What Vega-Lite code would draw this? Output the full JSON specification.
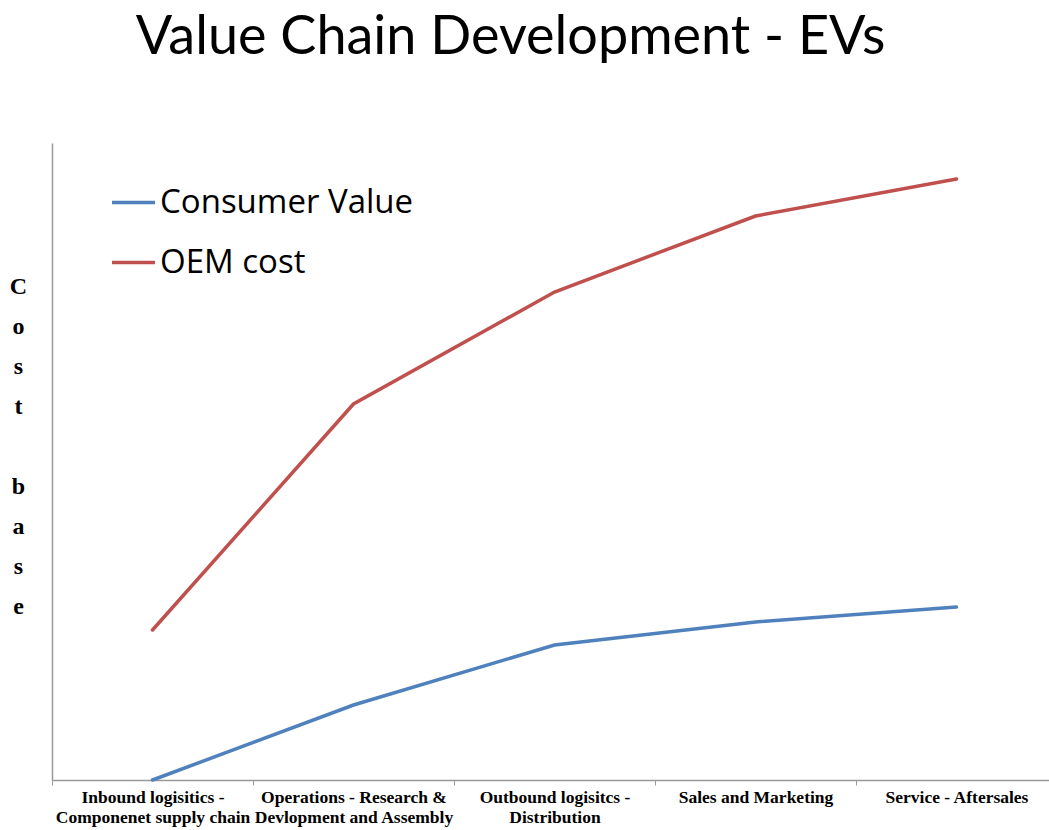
{
  "$schema": "https://vega.github.io/schema/vega-lite/v6.json",
  "autosize": {"type": "none"},
  "padding": {"left": 52, "top": 143, "right": 0, "bottom": 50},
  "width": 1005,
  "height": 637,
  "background": "white",
  "title": {
    "text": "Value Chain Development - EVs",
    "font": "Lato",
    "fontSize": 54,
    "fontWeight": "normal",
    "color": "#000000",
    "anchor": "middle",
    "baseline": "alphabetic",
    "offset": 35,
    "dx": -44
  },
  "data": {
    "values": [
      {"stage": "Inbound logisitics - |Componenet supply chain", "series": "Consumer Value", "cost": 0},
      {"stage": "Operations - Research & |Devlopment and Assembly", "series": "Consumer Value", "cost": 75},
      {"stage": "Outbound logisitcs - |Distribution", "series": "Consumer Value", "cost": 135},
      {"stage": "Sales and Marketing", "series": "Consumer Value", "cost": 158},
      {"stage": "Service - Aftersales", "series": "Consumer Value", "cost": 173},
      {"stage": "Inbound logisitics - |Componenet supply chain", "series": "OEM cost", "cost": 150},
      {"stage": "Operations - Research & |Devlopment and Assembly", "series": "OEM cost", "cost": 376},
      {"stage": "Outbound logisitcs - |Distribution", "series": "OEM cost", "cost": 488},
      {"stage": "Sales and Marketing", "series": "OEM cost", "cost": 564},
      {"stage": "Service - Aftersales", "series": "OEM cost", "cost": 601}
    ]
  },
  "mark": {"type": "line", "strokeWidth": 3.5, "strokeCap": "round"},
  "encoding": {
    "x": {
      "field": "stage",
      "type": "nominal",
      "sort": null,
      "scale": {"paddingInner": 0, "paddingOuter": 0},
      "axis": {
        "title": null,
        "labelAngle": 0,
        "labelExpr": "datum.value ? split(datum.value, '|') : ''",
        "labelFont": "Liberation Serif",
        "labelFontWeight": "bold",
        "labelFontSize": 17.5,
        "labelColor": "#000000",
        "labelLineHeight": 20,
        "labelPadding": 3,
        "labelBaseline": "top",
        "labelLimit": 400,
        "domainColor": "#999999",
        "domainWidth": 1.5,
        "tickColor": "#999999",
        "tickSize": 5,
        "tickBand": "extent",
        "grid": false
      }
    },
    "y": {
      "field": "cost",
      "type": "quantitative",
      "scale": {"domain": [0, 637], "nice": false, "zero": true},
      "axis": {
        "title": ["C", "o", "s", "t", "\u200b", "b", "a", "s", "e"],
        "titleAngle": 0,
        "titleFont": "Liberation Serif",
        "titleFontWeight": "bold",
        "titleFontSize": 24,
        "titleColor": "#000000",
        "titleLineHeight": 40,
        "titleAlign": "center",
        "titleBaseline": "alphabetic",
        "titleX": -34,
        "titleY": 150,
        "labels": false,
        "ticks": false,
        "grid": false,
        "domainColor": "#999999",
        "domainWidth": 1.5
      }
    },
    "color": {
      "field": "series",
      "type": "nominal",
      "scale": {"domain": ["Consumer Value", "OEM cost"], "range": ["#4F81BD", "#C0504D"]},
      "legend": {
        "title": null,
        "orient": "none",
        "legendX": 58,
        "legendY": 36,
        "symbolType": "stroke",
        "symbolSize": 1849,
        "symbolStrokeWidth": 3.5,
        "labelFont": "Open Sans",
        "labelFontSize": 33,
        "labelColor": "#000000",
        "labelOffset": 3,
        "rowPadding": 19,
        "labelLimit": 400
      }
    }
  },
  "config": {"view": {"stroke": null}}
}
